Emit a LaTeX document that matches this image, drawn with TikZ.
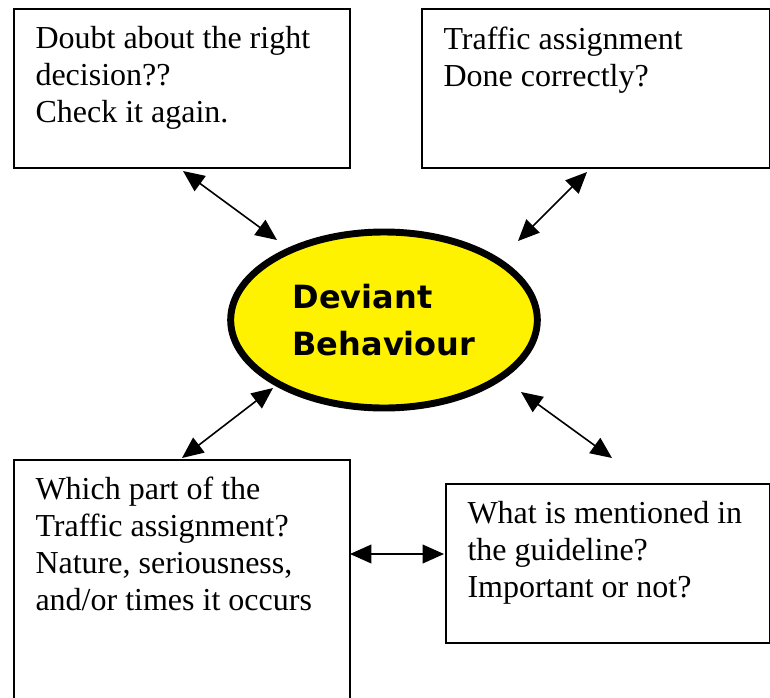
\documentclass[tikz,border=0pt]{standalone}
\usepackage{fontspec}
\setmainfont{Liberation Serif}
\newfontfamily\headfont{DejaVu Sans}
\usepackage{tikz}
\usetikzlibrary{arrows.meta}
\usetikzlibrary{shapes.geometric}

\begin{document}
\begin{tikzpicture}[x=0.375pt, y=-0.375pt,
    box/.style={draw, line width=0.8pt, anchor=north west, inner sep=0pt},
    boxtext/.style={anchor=north west, align=left, inner sep=0pt,
        font=\fontsize{12pt}{13.9pt}\selectfont},
    link/.style={{Triangle[length=8pt, width=7pt]}-{Triangle[length=8pt, width=7pt]}, line width=0.6pt}]
    \useasboundingbox (0, 0) rectangle (770, 697);

    % Boxes
    \node[box, minimum width=126pt, minimum height=59.6pt] (doubt) at (13, 8) {};
    \node[box, minimum width=130.5pt, minimum height=59.6pt] (assign) at (421, 8) {};
    \node[box, minimum width=126pt, minimum height=92pt] (part) at (13, 459) {};
    \node[box, minimum width=121.5pt, minimum height=59.6pt] (guide) at (445, 483) {};

    % Texts
    \node[boxtext] (doubttext) at (35, 26) {Doubt about the right\\decision??\\Check it again.};
    \node[boxtext] (assigntext) at (443, 26) {Traffic assignment\\Done correctly?};
    \node[boxtext] (parttext) at (35, 476) {Which part of the\\Traffic assignment?\\Nature, seriousness,\\and/or times it occurs};
    \node[boxtext] (guidetext) at (467, 501) {What is mentioned in\\the guideline?\\Important or not?};

    % Deviant Behaviour
    \node[ellipse, draw, fill=yellow, line width=2.6pt, minimum width=115pt, minimum height=66pt,
        align=left, font=\headfont\bfseries\fontsize{12pt}{17.5pt}\selectfont] (deviant) at (384, 320)
        {Deviant\\Behaviour};

    % Arrow ends
    \coordinate (d1) at (183, 171);
    \coordinate (e1) at (277, 240);
    \coordinate (d2) at (587, 172);
    \coordinate (e2) at (518, 241);
    \coordinate (d3) at (182, 458);
    \coordinate (e3) at (273, 388);
    \coordinate (d4) at (612, 458);
    \coordinate (e4) at (521, 392);
    \coordinate (p5) at (350, 554);
    \coordinate (g5) at (444, 554);

    % Arrows
    \draw[link] (d1) -- (e1);
    \draw[link] (d2) -- (e2);
    \draw[link] (d3) -- (e3);
    \draw[link] (d4) -- (e4);
    \draw[link] (p5) -- (g5);
\end{tikzpicture}
\end{document}
